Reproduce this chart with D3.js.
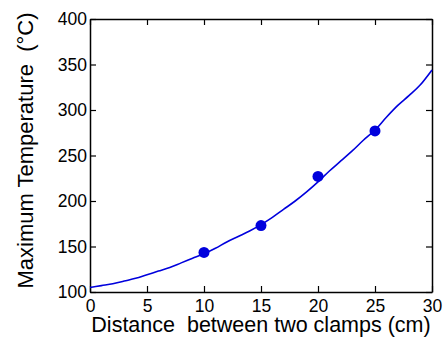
<!DOCTYPE html>
<html lang="en">
  <head>
    <meta charset="utf-8" />
    <title>Maximum temperature vs clamp distance</title>
    <script src="https://d3js.org/d3.v7.js"></script>
    <style>
      body { margin: 0; background: #fff; }
      text { font-family: "Liberation Sans", Arial, sans-serif; fill: #000; }
    </style>
  </head>
  <body>
    <script>

    // measured points
    var pointX = [10, 15, 20, 25];
    var pointY = [143.5, 173, 227, 277];

    // fitted curve
    var curveX = [0, 1, 2, 3, 4, 5, 6, 7, 8, 9, 10, 11, 12, 13, 14, 15, 16, 17, 18, 19, 20, 21, 22, 23, 24, 25, 26, 27, 28, 29, 30];
    var curveY = [105, 107, 109, 112, 115, 119, 123, 127, 132, 137, 142, 148, 155, 161, 167, 174, 182, 191, 200, 210, 221, 233, 244, 255, 267, 278, 292, 305, 316, 328, 344];

    var xTicks = [0, 5, 10, 15, 20, 25, 30];
    var yTicks = [100, 150, 200, 250, 300, 350, 400];

    var w = 443, h = 338;
    var margin = {top: 19, right: 11, bottom: 46, left: 90};
    var innerWidth = w - margin.left - margin.right;
    var innerHeight = h - margin.top - margin.bottom;

    var x = d3.scaleLinear().domain([0, 30]).range([0, innerWidth]);
    var y = d3.scaleLinear().domain([100, 400]).range([innerHeight, 0]);

    var svg = d3.select("body")
      .append("svg")
        .attr("width", w)
        .attr("height", h)
      .append("g")
        .attr("transform", `translate(${margin.left},${margin.top})`);

    // axes, ticks pointing inwards on all four sides
    svg.append("g")
      .attr("transform", `translate(0,${innerHeight})`)
      .call(d3.axisBottom(x).tickValues(xTicks).tickSizeInner(-6).tickSizeOuter(0).tickPadding(8));
    svg.append("g")
      .call(d3.axisTop(x).tickValues(xTicks).tickSizeInner(-6).tickSizeOuter(0).tickFormat(""));
    svg.append("g")
      .call(d3.axisLeft(y).tickValues(yTicks).tickSizeInner(-6).tickSizeOuter(0).tickPadding(3));
    svg.append("g")
      .attr("transform", `translate(${innerWidth},0)`)
      .call(d3.axisRight(y).tickValues(yTicks).tickSizeInner(-6).tickSizeOuter(0).tickFormat(""));

    svg.selectAll(".domain").attr("stroke", "#000").attr("stroke-width", 1.5);
    svg.selectAll(".tick line").attr("stroke", "#000").attr("stroke-width", 1.2);
    svg.selectAll(".tick text")
      .style("font-family", "'Liberation Sans', Arial, sans-serif")
      .style("font-size", "17.5px")
      .attr("fill", "#000");

    // curve
    var line = d3.line()
      .x((d, i) => x(curveX[i]))
      .y(d => y(d))
      .curve(d3.curveMonotoneX);

    svg.append("path")
      .datum(curveY)
      .attr("fill", "none")
      .attr("stroke", "#0000dd")
      .attr("stroke-width", 1.6)
      .attr("d", line);

    // points
    svg.selectAll("circle")
      .data(pointY)
      .join("circle")
        .attr("cx", (d, i) => x(pointX[i]))
        .attr("cy", d => y(d))
        .attr("r", 5.5)
        .attr("fill", "#0000dd");

    // axis titles
    svg.append("text")
      .attr("x", innerWidth / 2)
      .attr("y", innerHeight + 40)
      .attr("text-anchor", "middle")
      .style("font-size", "21.5px")
      .attr("xml:space", "preserve")
      .text("Distance  between two clamps (cm)");

    svg.append("text")
      .attr("transform", `translate(${-57},${innerHeight / 2 - 5}) rotate(-90)`)
      .attr("text-anchor", "middle")
      .style("font-size", "22px")
      .attr("xml:space", "preserve")
      .text("Maximum Temperature  (\u00B0C)");

    </script>
  </body>
</html>
